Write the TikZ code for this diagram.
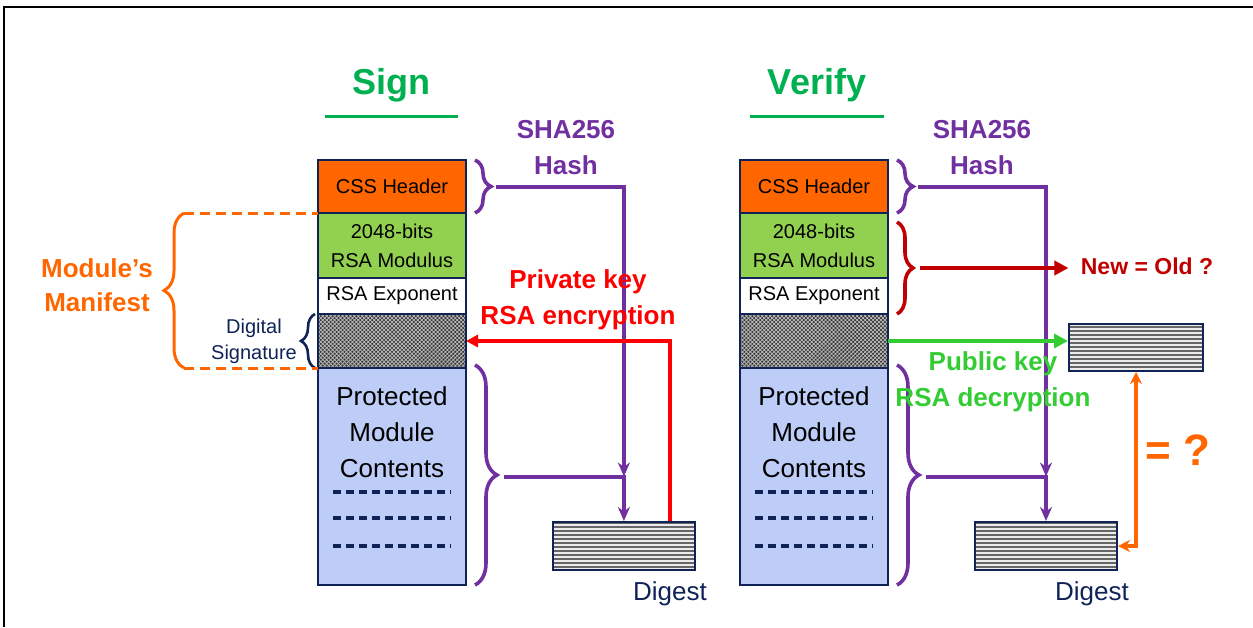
\documentclass[tikz,border=0pt]{standalone}
\usepackage{fontspec}
\setmainfont{Liberation Sans}
\usetikzlibrary{positioning, arrows.meta, calc, decorations.pathreplacing, patterns, patterns.meta}
\usepackage{xcolor}
\definecolor{TitleGreen}{HTML}{00B050}
\definecolor{HdrOrange}{HTML}{FF6600}
\definecolor{ModGreen}{HTML}{92D050}
\definecolor{HashPurple}{HTML}{7030A0}
\definecolor{KeyRed}{HTML}{FF0000}
\definecolor{DarkRed}{HTML}{C00000}
\definecolor{PubGreen}{HTML}{33CC33}
\definecolor{Navy}{HTML}{0F2357}
\definecolor{ContBlue}{HTML}{BDCDF7}

\begin{document}
\begin{tikzpicture}[x=0.5pt, y=-0.5pt]
    \tikzstyle{blk} = [rectangle, draw=Navy, line width=1pt, minimum width=74pt, inner sep=0pt, outer sep=0pt, align=center, font=\fontsize{10}{14.5}\selectfont]
    \tikzstyle{sigblk} = [blk, preaction={fill=black!78}, pattern={Hatch[angle=45, distance=1.4pt, line width=0.35pt]}, pattern color=gray!50]
    \tikzstyle{dgblk} = [rectangle, draw=Navy, line width=1pt, inner sep=0pt, minimum width=71pt, minimum height=24pt, preaction={fill=gray!15}, pattern={Lines[angle=0, distance=2pt, line width=0.9pt]}, pattern color=black!60]
    \tikzstyle{ctext} = [align=center, inner sep=0pt, font=\fontsize{13}{18}\selectfont]
    \tikzstyle{title} = [text=TitleGreen, font=\fontsize{18}{22}\selectfont\bfseries]
    \tikzstyle{lbl} = [align=center, inner sep=0pt, font=\fontsize{13}{18}\selectfont\bfseries]
    \tikzstyle{brc} = [decorate, decoration={brace, amplitude=8pt}, line width=1.8pt]
    \tikzstyle{hashln} = [HashPurple, line width=2pt, -{Stealth[length=7pt, width=6pt]}]
    \tikzstyle{dashln} = [Navy, line width=1.7pt, dash pattern=on 4pt off 2.5pt]

    \useasboundingbox (0,0) rectangle (1253,627);
    \draw[line width=1pt] (3.5,627) -- (3.5,6.5) -- (1253,6.5);

    % sign side
    \node[title] (signT) at (391,85) {Sign};
    \draw[TitleGreen, line width=1.5pt] (325,116) -- (458,116);

    \node[blk, fill=HdrOrange, minimum height=26.5pt, anchor=north west] (hdrL) at (318,160) {CSS Header};
    \node[blk, fill=ModGreen, minimum height=32.5pt, below=0pt of hdrL] (modL) {2048-bits\\RSA Modulus};
    \node[blk, fill=white, minimum height=18pt, below=0pt of modL] (expL) {RSA Exponent};
    \node[sigblk, minimum height=27pt, below=0pt of expL] (sigL) {};
    \node[blk, fill=ContBlue, minimum height=108.5pt, below=0pt of sigL] (cntL) {};
    \node[ctext, below=9pt of cntL.north] (cntLt) {Protected\\Module\\Contents};
    \foreach \dy in {124,150,178}
        \draw[dashln] ($(cntL.north west)+(15,\dy)$) -- ($(cntL.north east)+(-15,\dy)$);

    \node[dgblk, anchor=north west] (digL) at (552,521) {};
    \node[text=Navy, inner sep=0pt, font=\fontsize{13}{16}\selectfont] (digLt) at (670,594) {Digest};

    \node[text=Navy, align=center, inner sep=0pt, font=\fontsize{10}{13}\selectfont] (dsig) at (254,341) {Digital\\Signature};
    \draw[brc, Navy, decoration={amplitude=7pt}, line width=1.3pt] ($(sigL.south west)+(-3,0)$) -- ($(sigL.north west)+(-3,0)$);

    \draw[brc, HdrOrange, decoration={amplitude=10pt}, line width=1.5pt] ($(sigL.south west)+(-134,0)$) -- ($(modL.north west)+(-134,0)$);
    \draw[HdrOrange, line width=1.5pt, dash pattern=on 5pt off 3pt] ($(modL.north west)+(-134,0)$) -- (modL.north west);
    \draw[HdrOrange, line width=1.5pt, dash pattern=on 5pt off 3pt] ($(sigL.south west)+(-134,0)$) -- (sigL.south west);
    \node[lbl, text=HdrOrange, font=\fontsize{13}{17}\selectfont\bfseries] (mnf) at (97,285) {Module’s\\Manifest};

    \draw[brc, HashPurple] ($(hdrL.north east)+(9,0)$) -- ($(hdrL.south east)+(9,0)$);
    \draw[brc, HashPurple, decoration={amplitude=11pt}] ($(cntL.north east)+(9,-3)$) -- ($(cntL.south east)+(9,0)$);
    \coordinate (hbL) at ($(hdrL.east)+(30,0)$);
    \coordinate (cbL) at ($(cntL.east)+(38,0)$);
    \coordinate (jL) at (digL.north |- cbL);
    \draw[hashln] (hbL) -| (jL);
    \draw[hashln] (cbL) -| (digL.north);
    \draw[KeyRed, line width=2pt, -{Triangle[length=6pt, width=6pt]}] ($(digL.north)+(46,0)$) |- (sigL.east);

    \node[lbl, text=HashPurple] (shaL) at (566,148) {SHA256\\Hash};
    \node[lbl, text=KeyRed] (encL) at (578,300) {Private key\\RSA encryption};

    % verify side
    \node[title] (verT) at (817,85) {Verify};
    \draw[TitleGreen, line width=1.5pt] (750,116) -- (884,116);

    \node[blk, fill=HdrOrange, minimum height=26.5pt, anchor=north west] (hdrR) at (740,160) {CSS Header};
    \node[blk, fill=ModGreen, minimum height=32.5pt, below=0pt of hdrR] (modR) {2048-bits\\RSA Modulus};
    \node[blk, fill=white, minimum height=18pt, below=0pt of modR] (expR) {RSA Exponent};
    \node[sigblk, minimum height=27pt, below=0pt of expR] (sigR) {};
    \node[blk, fill=ContBlue, minimum height=108.5pt, below=0pt of sigR] (cntR) {};
    \node[ctext, below=9pt of cntR.north] (cntRt) {Protected\\Module\\Contents};
    \foreach \dy in {124,150,178}
        \draw[dashln] ($(cntR.north west)+(15,\dy)$) -- ($(cntR.north east)+(-15,\dy)$);

    \node[dgblk, anchor=north west] (digR) at (974,521) {};
    \node[text=Navy, inner sep=0pt, font=\fontsize{13}{16}\selectfont] (digRt) at (1092,594) {Digest};
    \node[dgblk, minimum width=67pt, minimum height=23.5pt, anchor=north west] (pkR) at (1068,323) {};

    \draw[brc, HashPurple] ($(hdrR.north east)+(9,0)$) -- ($(hdrR.south east)+(9,0)$);
    \draw[brc, HashPurple, decoration={amplitude=11pt}] ($(cntR.north east)+(9,-3)$) -- ($(cntR.south east)+(9,0)$);
    \coordinate (hbR) at ($(hdrR.east)+(30,0)$);
    \coordinate (cbR) at ($(cntR.east)+(38,0)$);
    \coordinate (jR) at (digR.north |- cbR);
    \draw[hashln] (hbR) -| (jR);
    \draw[hashln] (cbR) -| (digR.north);

    \draw[brc, DarkRed] ($(modR.north east)+(9,9)$) -- ($(expR.south east)+(9,0)$);
    \node[lbl, text=DarkRed, font=\fontsize{11.5}{14}\selectfont\bfseries] (cmp) at (1147,266) {New = Old ?};
    \coordinate (mbR) at ($(expR.south east)+(32,-46)$);
    \draw[DarkRed, line width=2pt, -{Triangle[length=7pt, width=7pt]}] (mbR) -- ([xshift=-6]cmp.west |- mbR);

    \draw[PubGreen, line width=2pt, -{Triangle[length=7pt, width=7pt]}] (sigR.east) -- (sigR.east -| pkR.west);
    \draw[HdrOrange, line width=1.8pt, {Stealth[length=6pt, width=6pt]}-{Stealth[length=6pt, width=6pt]}] (pkR.south) |- (digR.east);

    \node[lbl, text=HashPurple] (shaR) at (982,148) {SHA256\\Hash};
    \node[lbl, text=PubGreen] (decR) at (993,382) {Public key\\RSA decryption};
    \node[lbl, text=HdrOrange, font=\fontsize{22}{26}\selectfont\bfseries] (eqR) at (1178,450) {= ?};
\end{tikzpicture}
\end{document}
